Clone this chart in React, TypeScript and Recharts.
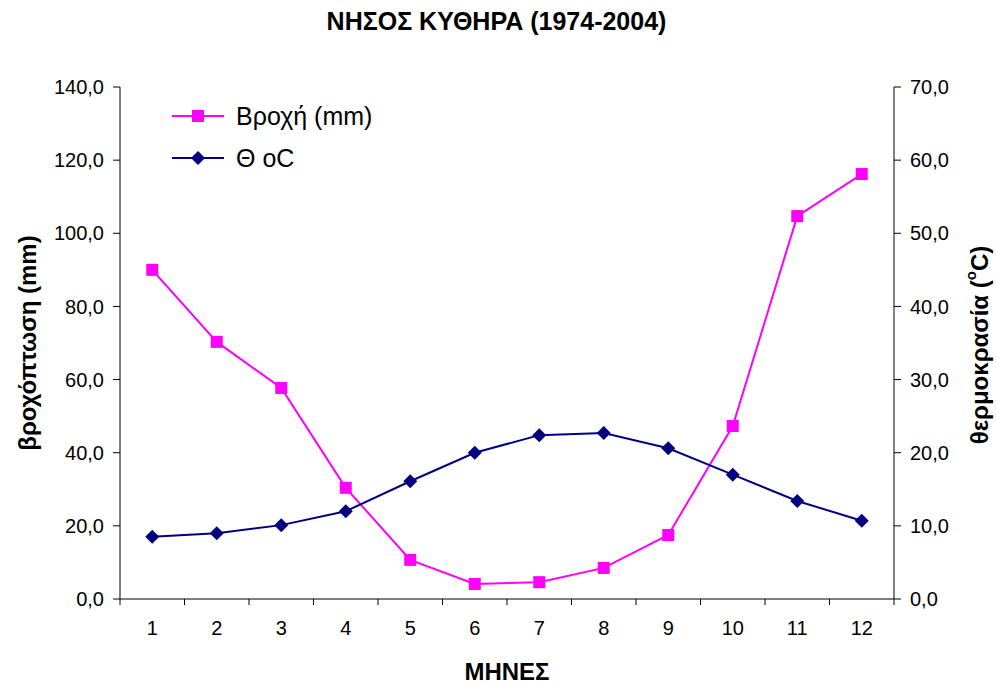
import { Label, Legend, Line, LineChart, XAxis, YAxis } from "recharts";

const months = [1, 2, 3, 4, 5, 6, 7, 8, 9, 10, 11, 12];
const rain = [90.0, 70.3, 57.7, 30.4, 10.7, 4.1, 4.6, 8.5, 17.5, 47.3, 104.7, 116.2];
const temp = [8.5, 9.0, 10.1, 12.0, 16.1, 20.0, 22.4, 22.7, 20.6, 17.0, 13.4, 10.7];
const rainTicks = [0, 20, 40, 60, 80, 100, 120, 140];
const tempTicks = [0, 10, 20, 30, 40, 50, 60, 70];
const monthEdges = [0.5, 1.5, 2.5, 3.5, 4.5, 5.5, 6.5, 7.5, 8.5, 9.5, 10.5, 11.5, 12.5];

const data = months.map((m, i) => ({ month: m, rain: rain[i], temp: temp[i] }));

const FONT = '"Liberation Sans", Arial, sans-serif';
const PINK = "#ff00ff";
const NAVY = "#000080";
const HALF_STEP = 774 / 24;

const fmt = (v: number) => v.toFixed(1).replace(".", ",");

function SquareDot(props: any) {
  const { cx, cy } = props;
  if (cx == null || cy == null) return null;
  return <rect x={cx - 6} y={cy - 6} width={12} height={12} fill={PINK} />;
}

function DiamondDot(props: any) {
  const { cx, cy } = props;
  if (cx == null || cy == null) return null;
  return (
    <polygon
      points={`${cx},${cy - 7} ${cx + 7},${cy} ${cx},${cy + 7} ${cx - 7},${cy}`}
      fill={NAVY}
    />
  );
}

// labels sit between the boundary tick marks, like Excel
function MonthTick(props: any) {
  const { x, y, payload } = props;
  if (payload.value >= 12.5) return null;
  return (
    <text
      x={x + HALF_STEP}
      y={y + 28}
      textAnchor="middle"
      fontSize={20}
      fontFamily={FONT}
      fill="#000"
    >
      {payload.value + 0.5}
    </text>
  );
}

function ChartLegend() {
  const row = (kind: "sq" | "dia", color: string, text: string) => (
    <div style={{ display: "flex", alignItems: "center", height: 42 }}>
      <svg width={64} height={20}>
        <line x1={0} y1={10} x2={52} y2={10} stroke={color} strokeWidth={2} />
        {kind === "sq" ? (
          <rect x={20} y={4} width={12} height={12} fill={color} />
        ) : (
          <polygon points="26,3 33,10 26,17 19,10" fill={color} />
        )}
      </svg>
      <span style={{ fontFamily: FONT, fontSize: 25, color: "#000" }}>{text}</span>
    </div>
  );
  return (
    <div>
      {row("sq", PINK, "Βροχή (mm)")}
      {row("dia", NAVY, "Θ oC")}
    </div>
  );
}

export default function App() {
  return (
    <div
      style={{
        position: "absolute",
        left: 0,
        top: 0,
        width: 996,
        height: 686,
        background: "#fff",
        fontFamily: FONT,
      }}
    >
      <div
        style={{
          position: "absolute",
          top: 7,
          left: 0,
          width: 993,
          textAlign: "center",
          fontSize: 25,
          fontWeight: "bold",
        }}
      >
        ΝΗΣΟΣ ΚΥΘΗΡΑ (1974-2004)
      </div>
      <LineChart
        width={996}
        height={686}
        data={data}
        margin={{ top: 87, right: 0, bottom: 0, left: 0 }}
      >
        <XAxis
          dataKey="month"
          type="number"
          domain={[0.5, 12.5]}
          ticks={monthEdges}
          interval={0}
          height={87}
          stroke="#000"
          tickSize={6}
          tick={<MonthTick />}
        >
          <Label
            content={() => (
              <text
                x={507}
                y={680}
                textAnchor="middle"
                fontSize={24}
                fontWeight="bold"
                fontFamily={FONT}
              >
                ΜΗΝΕΣ
              </text>
            )}
          />
        </XAxis>
        <YAxis
          yAxisId="rain"
          domain={[0, 140]}
          ticks={rainTicks}
          width={120}
          stroke="#000"
          tickSize={7}
          tickMargin={9}
          tickFormatter={fmt}
          tick={{ fill: "#000", fontSize: 20, fontFamily: FONT }}
        >
          <Label
            content={() => (
              <text
                x={27}
                y={343}
                transform="rotate(-90 27 343)"
                textAnchor="middle"
                dominantBaseline="central"
                fontSize={24}
                fontWeight="bold"
                fontFamily={FONT}
              >
                βροχόπτωση (mm)
              </text>
            )}
          />
        </YAxis>
        <YAxis
          yAxisId="temp"
          orientation="right"
          domain={[0, 70]}
          ticks={tempTicks}
          width={102}
          stroke="#000"
          tickSize={7}
          tickMargin={9}
          tickFormatter={fmt}
          tick={{ fill: "#000", fontSize: 20, fontFamily: FONT }}
        >
          <Label
            content={() => (
              <text
                x={979}
                y={345}
                transform="rotate(-90 979 345)"
                textAnchor="middle"
                dominantBaseline="central"
                fontSize={24}
                fontWeight="bold"
                fontFamily={FONT}
              >
                θερμοκρασία (
                <tspan fontSize={15} dy={-9}>
                  o
                </tspan>
                <tspan dy={9}>C)</tspan>
              </text>
            )}
          />
        </YAxis>
        <Legend
          layout="horizontal"
          verticalAlign="middle"
          align="center"
          wrapperStyle={{ top: 95, left: 172, width: 260 }}
          content={() => <ChartLegend />}
        />
        <Line
          yAxisId="rain"
          dataKey="rain"
          stroke={PINK}
          strokeWidth={2}
          dot={<SquareDot />}
          activeDot={false}
          isAnimationActive={false}
        />
        <Line
          yAxisId="temp"
          dataKey="temp"
          stroke={NAVY}
          strokeWidth={2}
          dot={<DiamondDot />}
          activeDot={false}
          isAnimationActive={false}
        />
      </LineChart>
    </div>
  );
}
